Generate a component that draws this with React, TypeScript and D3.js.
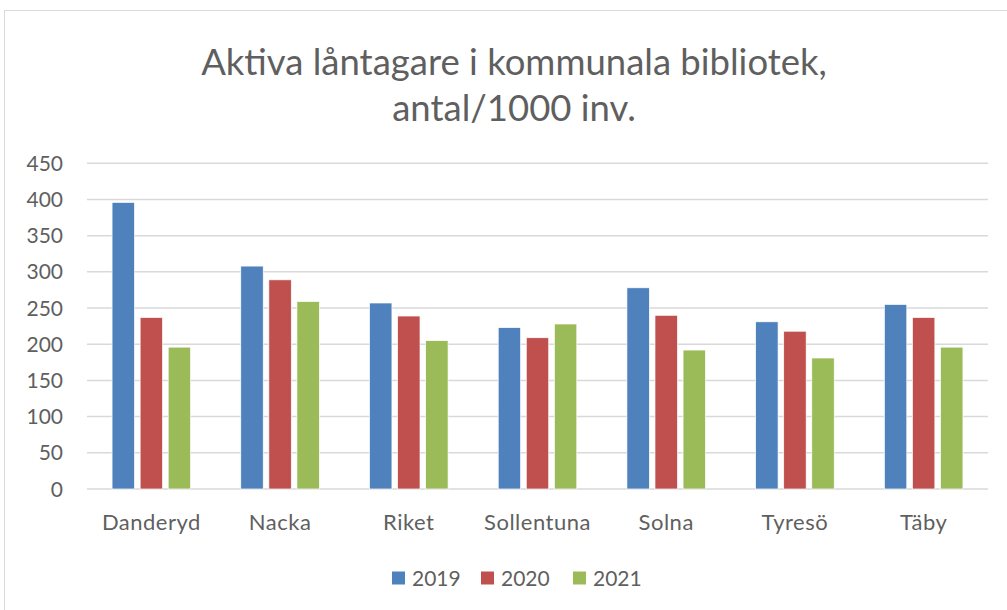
import React, { useEffect, useRef } from 'react';
import * as d3 from 'd3';

const kommuner = ['Danderyd', 'Nacka', 'Riket', 'Sollentuna', 'Solna', 'Tyresö', 'Täby'];
const years = ['2019', '2020', '2021'];
const values2019 = [396, 308, 257, 223, 278, 231, 255];
const values2020 = [237, 289, 239, 209, 240, 218, 237];
const values2021 = [196, 259, 205, 228, 192, 181, 196];
const yTicks = [0, 50, 100, 150, 200, 250, 300, 350, 400, 450];
const colors = ['#4f81bd', '#c0504d', '#9bbb59'];

const W = 1007;
const H = 610;
const font = 'Lato, sans-serif';

const App = () => {
  const ref = useRef<SVGSVGElement>(null);

  useEffect(() => {
    const svg = d3.select(ref.current);
    svg.selectAll('*').remove();

    // chart border
    svg.append('rect')
      .attr('x', 4.5).attr('y', 10.5)
      .attr('width', 1010).attr('height', 610)
      .attr('fill', '#fff').attr('stroke', '#d9d9d9');

    svg.append('text')
      .attr('x', 514).attr('y', 75)
      .attr('text-anchor', 'middle')
      .attr('font-family', font).attr('font-size', 36.5)
      .attr('fill', '#5f5f5f')
      .text('Aktiva låntagare i kommunala bibliotek,');
    svg.append('text')
      .attr('x', 514).attr('y', 121)
      .attr('text-anchor', 'middle')
      .attr('font-family', font).attr('font-size', 36.5)
      .attr('fill', '#5f5f5f')
      .text('antal/1000 inv.');

    const left = 87, right = 988, top = 163.3, bottom = 489;
    const x = d3.scaleBand().domain(kommuner).range([left, right]);
    const y = d3.scaleLinear().domain([0, 450]).range([bottom, top]);
    const inner = d3.scaleBand().domain(years).range([0, 78.6]).paddingInner(0.2);

    const g = svg.append('g');
    g.selectAll('line.grid').data(yTicks).enter().append('line')
      .attr('x1', left).attr('x2', right)
      .attr('y1', (d) => y(d)).attr('y2', (d) => y(d))
      .attr('stroke', '#d9d9d9').attr('stroke-width', 1.5);

    g.selectAll('text.ytick').data(yTicks).enter().append('text')
      .attr('x', 63).attr('y', (d) => y(d) + 7.5)
      .attr('text-anchor', 'end')
      .attr('font-family', font).attr('font-size', 21)
      .attr('fill', '#5f5f5f')
      .text((d) => d);

    const series = [values2019, values2020, values2021];
    series.forEach((vals, si) => {
      g.selectAll(`rect.s${si}`).data(vals).enter().append('rect')
        .attr('x', (d, i) => x(kommuner[i])! + x.bandwidth() / 2 - 39.3 + inner(years[si])!)
        .attr('y', (d) => y(d))
        .attr('width', inner.bandwidth())
        .attr('height', (d) => bottom - y(d))
        .attr('fill', colors[si])
        .attr('stroke', '#fff').attr('stroke-width', 0.7);
    });

    g.selectAll('text.xtick').data(kommuner).enter().append('text')
      .attr('x', (d) => x(d)! + x.bandwidth() / 2)
      .attr('y', 529.5)
      .attr('text-anchor', 'middle')
      .attr('font-family', font).attr('font-size', 22)
      .attr('letter-spacing', 0.5)
      .attr('fill', '#5f5f5f')
      .text((d) => d);

    const legendX = [392, 481, 573];
    years.forEach((yr, i) => {
      svg.append('rect')
        .attr('x', legendX[i]).attr('y', 571.5)
        .attr('width', 13).attr('height', 13)
        .attr('fill', colors[i]);
      svg.append('text')
        .attr('x', legendX[i] + 20).attr('y', 585.5)
        .attr('font-family', font).attr('font-size', 21)
        .attr('fill', '#5f5f5f')
        .text(yr);
    });
  }, []);

  return (
    <svg ref={ref} width={W} height={H} style={{ position: 'absolute', left: 0, top: 0 }} />
  );
};

export default App;
